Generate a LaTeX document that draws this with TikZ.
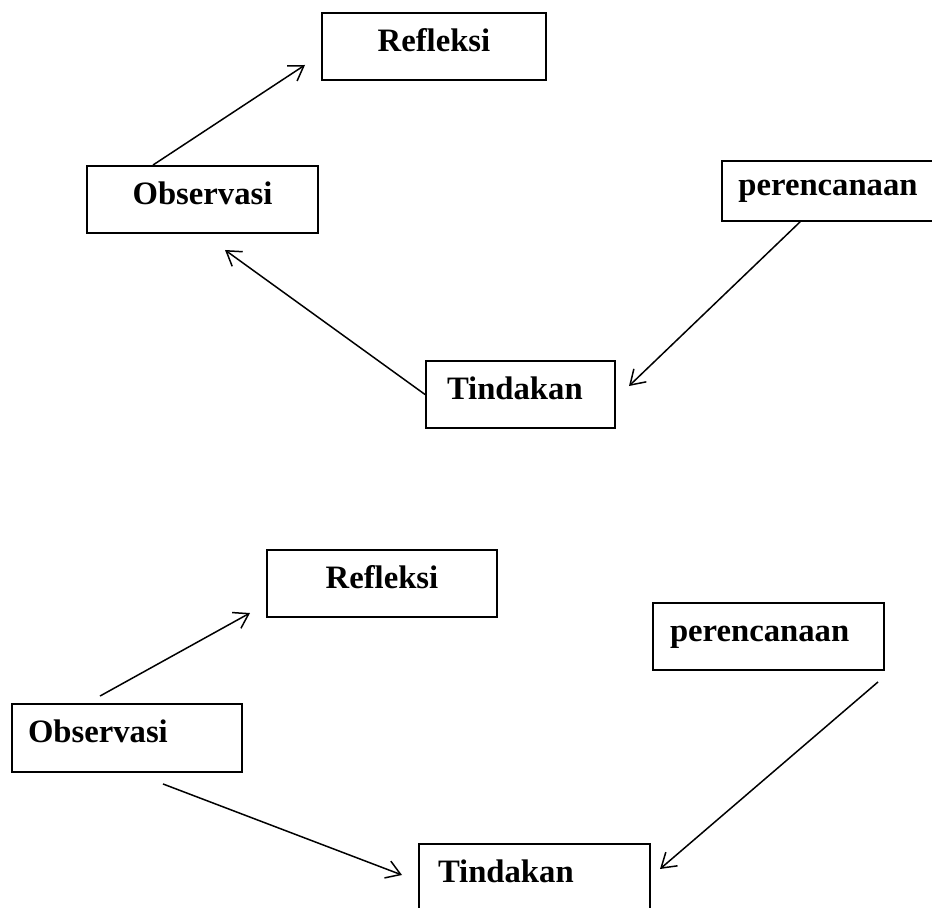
\documentclass[tikz,border=0pt]{standalone}
\usepackage{fontspec}
\setmainfont{Liberation Serif}
\usetikzlibrary{arrows.meta, calc}

\begin{document}
\begin{tikzpicture}[x=0.02cm, y=-0.02cm, thick,
    box/.style={draw, line width=1.1pt, minimum height=1.34cm, text height=0.44cm, text depth=0.25cm,
      font=\fontsize{18.6}{22}\selectfont\bfseries},
    flow/.style={-{Straight Barb[length=0.28cm, width=0.36cm]}, line width=0.85pt}]
            \useasboundingbox (0,0) rectangle (932,908);
            % siklus pertama
            \node[box, minimum width=4.48cm] (R1) at (434,46.5) {Refleksi};
            \node[box, minimum width=4.62cm] (O1) at (202.5,199.5) {Observasi};
            \node[box, minimum width=4.24cm, minimum height=1.2cm] (P1) at (828,191) {perencanaan};
            \node[box, inner xsep=0.42cm, text width=2.94cm, align=left] (T1) at (520.5,394.5) {Tindakan};
            \coordinate (a1) at (305,65); \coordinate (a2) at (225,250); \coordinate (a3) at (629,386);
            \draw[flow] ($(O1.north)+(-49.5,0)$) -- (a1);
            \draw[flow] (T1.west) -- (a2);
            \draw[flow] ($(P1.south)+(-28,0)$) -- (a3);
            % siklus kedua
            \node[box, minimum width=4.6cm] (R2) at (382,583.5) {Refleksi};
            \node[box, inner xsep=0.34cm, text width=3.94cm, align=left] (P2) at (768.5,636.5) {perencanaan};
            \node[box, inner xsep=0.32cm, text width=3.96cm, align=left, minimum height=1.36cm] (O2) at (127,738) {Observasi};
            \node[box, inner xsep=0.38cm, text width=3.86cm, align=left] (T2) at (534.5,877.5) {Tindakan};
            \coordinate (b1) at (250,613); \coordinate (b2) at (402,875); \coordinate (b3) at (660,869);
            \draw[flow] ($(O2.north)+(-27,-7)$) -- (b1);
            \draw[flow] ($(O2.south)+(36,11)$) -- (b2);
            \draw[flow] ($(P2.south)+(109.5,11)$) -- (b3);
        \end{tikzpicture}
\end{document}
